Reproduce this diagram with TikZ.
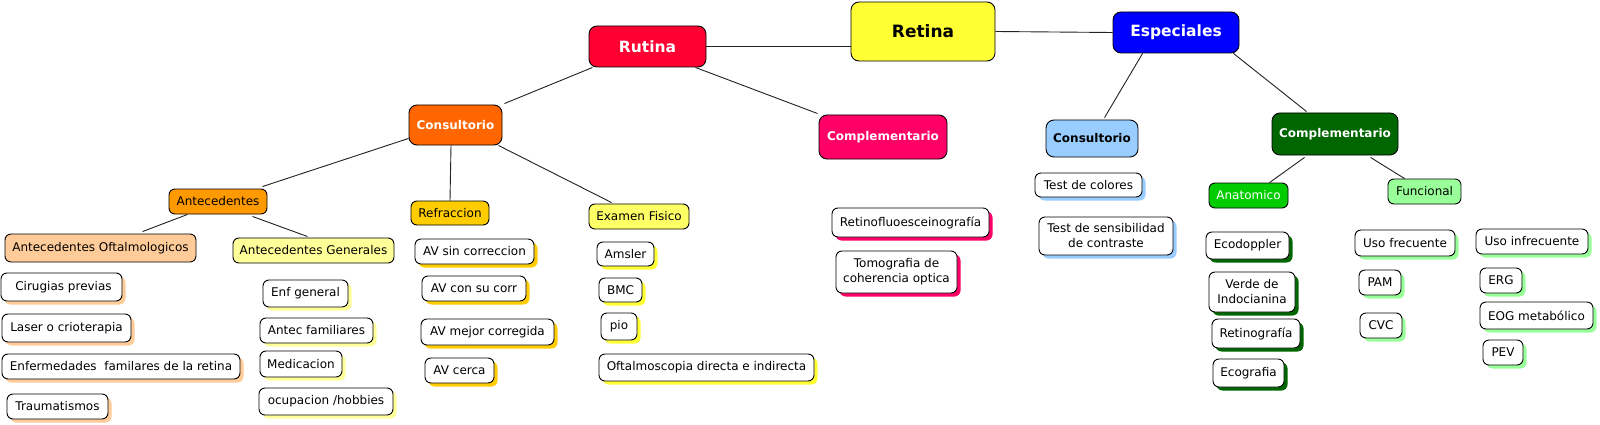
\documentclass[tikz,border=0pt]{standalone}
\usepackage{fontspec}
\setmainfont{DejaVu Sans}
\usetikzlibrary{shadows,backgrounds,calc}
\definecolor{cRetina}{HTML}{FFFF33}
\definecolor{cRutina}{HTML}{FF0033}
\definecolor{cEsp}{HTML}{0000FF}
\definecolor{cConsR}{HTML}{FF6600}
\definecolor{cCompR}{HTML}{FF0066}
\definecolor{cConsE}{HTML}{99CCFF}
\definecolor{cCompE}{HTML}{006600}
\definecolor{cAntec}{HTML}{FF9900}
\definecolor{cRefr}{HTML}{FFCC00}
\definecolor{cExam}{HTML}{FFFF66}
\definecolor{cExamS}{HTML}{FFFF33}
\definecolor{cOft}{HTML}{FFCC99}
\definecolor{cGen}{HTML}{FFFF99}
\definecolor{cAnat}{HTML}{00CC00}
\definecolor{cFunc}{HTML}{99FF99}
\definecolor{cLine}{HTML}{222222}
\tikzset{
  box/.style={draw=black, line width=0.9pt, rounded corners=6pt, inner sep=0pt,
    align=center, font=\fontsize{12}{15}\selectfont},
  mainbox/.style={box, rounded corners=8pt},
  leaf/.style={box, fill=white, general shadow={fill=#1, shadow xshift=3.5pt, shadow yshift=-3.5pt}},
  wh/.style={minimum width=#1},
  conn/.style={draw=cLine, line width=0.9pt},
}
\newcommand{\bx}[3]{minimum width=#1pt, minimum height=#2pt}
\begin{document}
\begin{tikzpicture}[x=1pt,y=-1pt]
\useasboundingbox (0,0) rectangle (1600,425);
% main level
\node[mainbox, fill=cRetina, minimum width=144pt, minimum height=59pt, font=\fontsize{17}{20}\selectfont\bfseries] (retina) at (923,31.5) {Retina};
\node[mainbox, fill=cRutina, text=white, minimum width=117pt, minimum height=41pt, font=\fontsize{15.5}{18}\selectfont\bfseries] (rutina) at (647.5,46.5) {Rutina};
\node[mainbox, fill=cEsp, text=white, minimum width=126pt, minimum height=41pt, font=\fontsize{15.5}{18}\selectfont\bfseries] (especiales) at (1176,32.5) {Especiales};
\node[mainbox, fill=cConsR, text=white, minimum width=93pt, minimum height=40pt, font=\fontsize{12}{15}\selectfont\bfseries] (consR) at (455.5,125) {Consultorio};
\node[mainbox, fill=cCompR, text=white, minimum width=128pt, minimum height=44pt, font=\fontsize{12}{15}\selectfont\bfseries] (compR) at (883,137) {Complementario};
\node[mainbox, fill=cConsE, minimum width=92pt, minimum height=37pt, font=\fontsize{12}{15}\selectfont\bfseries] (consE) at (1092,138.5) {Consultorio};
\node[mainbox, fill=cCompE, text=white, minimum width=126pt, minimum height=42pt, font=\fontsize{12}{15}\selectfont\bfseries] (compE) at (1335,134) {Complementario};
% categories
\node[box, fill=cAntec, minimum width=98pt, minimum height=25pt] (antec) at (218,201.5) {Antecedentes};
\node[box, fill=cRefr, minimum width=78pt, minimum height=24pt] (refr) at (450,213) {Refraccion};
\node[box, fill=cExam, minimum width=100pt, minimum height=25pt] (exam) at (639,216.5) {Examen Fisico};
\node[box, fill=cOft, minimum width=191pt, minimum height=28pt] (oft) at (100.5,248) {Antecedentes Oftalmologicos};
\node[box, fill=cGen, minimum width=161pt, minimum height=25pt] (gen) at (313.5,250.5) {Antecedentes Generales};
\node[box, fill=cAnat, text=white, minimum width=79pt, minimum height=25pt] (anat) at (1248.5,195.5) {Anatomico};
\node[box, fill=cFunc, minimum width=73pt, minimum height=25pt] (func) at (1424.5,191.5) {Funcional};
% leaves: oftalmologicos
\node[leaf=cOft, minimum width=121pt, minimum height=28pt] (cir) at (61.5,287) {\hspace{4pt}Cirugias previas};
\node[leaf=cOft, minimum width=129pt, minimum height=28pt] (laser) at (66.5,328) {Laser o crioterapia};
\node[leaf=cOft, minimum width=238pt, minimum height=25pt] (enf) at (121,366.5) {Enfermedades\ \ familares de la retina};
\node[leaf=cOft, minimum width=101pt, minimum height=25pt] (trau) at (57.5,406.5) {Traumatismos};
% generales
\node[leaf=cGen, minimum width=85pt, minimum height=27pt] (enfg) at (305.5,293.5) {Enf general};
\node[leaf=cGen, minimum width=113pt, minimum height=25pt] (antf) at (316.5,330.5) {Antec familiares};
\node[leaf=cGen, minimum width=82pt, minimum height=26pt] (med) at (301,364) {Medicacion};
\node[leaf=cGen, minimum width=134pt, minimum height=27pt] (ocu) at (326,401.5) {ocupacion /hobbies};
% refraccion
\node[leaf=cRefr, minimum width=119pt, minimum height=25pt] (avs) at (474.5,251.5) {AV sin correccion};
\node[leaf=cRefr, minimum width=104pt, minimum height=25pt] (avc) at (474,288.5) {AV con su corr};
\node[leaf=cRefr, minimum width=133pt, minimum height=26pt] (avm) at (487.5,332) {AV mejor corregida};
\node[leaf=cRefr, minimum width=69pt, minimum height=25pt] (avce) at (459.5,370.5) {AV cerca};
% examen fisico
\node[leaf=cExamS, minimum width=57pt, minimum height=24pt] (ams) at (625.5,254) {Amsler};
\node[leaf=cExamS, minimum width=43pt, minimum height=24pt] (bmc) at (620.5,290) {BMC};
\node[leaf=cExamS, minimum width=36pt, minimum height=27pt] (pio) at (619,326.5) {pio};
\node[leaf=cExamS, minimum width=215pt, minimum height=27pt] (oftd) at (706.5,367.5) {Oftalmoscopia directa e indirecta};
% complementario rutina
\node[leaf=cCompR, minimum width=157pt, minimum height=29pt] (retf) at (910.5,222.5) {Retinofluoesceinografía};
\node[leaf=cCompR, minimum width=121pt, minimum height=42pt] (tomo) at (896.5,272) {Tomografia de\\coherencia optica};
% consultorio especiales
\node[leaf=cConsE, minimum width=107pt, minimum height=24pt] (tcol) at (1088.5,185) {Test de colores};
\node[leaf=cConsE, minimum width=134pt, minimum height=38pt] (tsen) at (1106,236) {Test de sensibilidad\\de contraste};
% anatomico
\node[leaf=cCompE, minimum width=83pt, minimum height=27pt] (eco) at (1247.5,245.5) {Ecodoppler};
\node[leaf=cCompE, minimum width=86pt, minimum height=40pt] (verde) at (1252,292) {Verde de\\Indocianina};
\node[leaf=cCompE, minimum width=88pt, minimum height=29pt] (retg) at (1256,333.5) {Retinografía};
\node[leaf=cCompE, minimum width=71pt, minimum height=28pt] (ecog) at (1248.5,373) {Ecografia};
% funcional
\node[leaf=cFunc, minimum width=100pt, minimum height=26pt] (usof) at (1405,243) {Uso frecuente};
\node[leaf=cFunc, minimum width=112pt, minimum height=25pt] (usoi) at (1532,241.5) {Uso infrecuente};
\node[leaf=cFunc, minimum width=42pt, minimum height=25pt] (pam) at (1380,282.5) {PAM};
\node[leaf=cFunc, minimum width=42pt, minimum height=25pt] (cvc) at (1381,325.5) {CVC};
\node[leaf=cFunc, minimum width=42pt, minimum height=25pt] (erg) at (1501,280.5) {ERG};
\node[leaf=cFunc, minimum width=113pt, minimum height=27pt] (eog) at (1536.5,315.5) {EOG metabólico};
\node[leaf=cFunc, minimum width=40pt, minimum height=25pt] (pev) at (1503,352.5) {PEV};
% connectors
\begin{scope}[on background layer]
\fill[white] (0,0) rectangle (1600,425);
\draw[conn] (rutina.east) -- (rutina.east -| retina.west);
\draw[conn] (retina.east) -- (especiales.west);
\draw[conn] ([xshift=4pt]rutina.south west) -- ([xshift=2pt,yshift=1pt]consR.north east);
\draw[conn] ([xshift=-11pt]rutina.south east) -- ([xshift=-1pt,yshift=1pt]compR.north west);
\draw[conn] ([xshift=30pt]especiales.south west) -- ([xshift=59pt,yshift=2pt]consE.north west);
\draw[conn] ([xshift=-6pt]especiales.south east) -- ([xshift=35pt,yshift=1pt]compE.north west);
\draw[conn] ([yshift=7pt]consR.south west) -- ([xshift=-5pt,yshift=2pt]antec.north east);
\draw[conn] ([xshift=-4.5pt]consR.south) -- (refr.north);
\draw[conn] ([xshift=-4pt]consR.south east) -- ([xshift=23pt,yshift=1pt]exam.north west);
\draw[conn] ([xshift=19pt]antec.south west) -- ([xshift=138pt,yshift=2pt]oft.north west);
\draw[conn] ([xshift=-15pt,yshift=-2pt]antec.south east) -- ([xshift=75pt,yshift=1pt]gen.north west);
\draw[conn] ([xshift=33pt,yshift=-2pt]compE.south west) -- ([xshift=61pt]anat.north west);
\draw[conn] ([xshift=99pt,yshift=-2pt]compE.south west) -- ([xshift=17pt]func.north west);
\end{scope}
\end{tikzpicture}
\end{document}
